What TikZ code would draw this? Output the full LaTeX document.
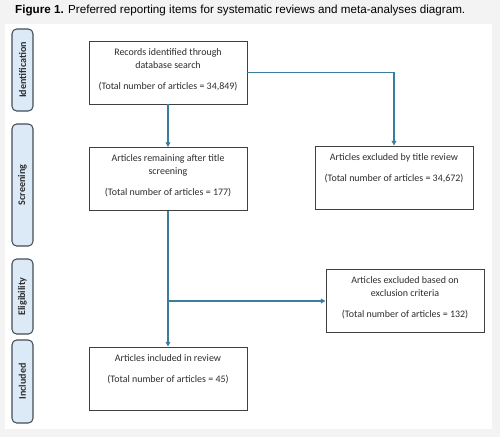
\documentclass[tikz,border=0pt]{standalone}
\usepackage{fontspec}
\setmainfont{Carlito}
\newfontfamily\captionfont{Liberation Sans}
\usetikzlibrary{arrows.meta,positioning}
\definecolor{PageGrey}{HTML}{F3F3F3}
\definecolor{StageFill}{HTML}{DCEAF7}
\definecolor{StageLine}{HTML}{434D57}
\definecolor{BoxLine}{HTML}{404040}
\definecolor{FlowTeal}{HTML}{3A7E9E}
\definecolor{FlowInk}{HTML}{2E2E2E}
\tikzset{
  every node/.style={text=FlowInk},
  stagebox/.style={draw=StageLine, line width=0.9pt, fill=StageFill, rounded corners=4pt,
    rotate=90, minimum height=0.63cm, inner sep=0pt, font=\fontsize{8.6}{10}\selectfont\bfseries},
  flowbox/.style={draw=BoxLine, line width=0.8pt, fill=white, minimum width=4.74cm, minimum height=1.89cm, inner sep=0pt},
  flowtext/.style={anchor=north, align=center, inner sep=0pt, yshift=-6.5pt, font=\fontsize{8.5}{11.1}\selectfont},
  flowarrow/.style={-{Triangle[length=1.4mm,width=1.4mm]}, draw=FlowTeal, line width=1pt},
}
\begin{document}
\begin{tikzpicture}[x=0.03cm,y=-0.03cm]
  % Page and panel
  \fill[PageGrey] (0,0) rectangle (500,437);
  \fill[white] (5,24) rectangle (492,429);
  \node[anchor=west, inner sep=0pt, font=\captionfont\fontsize{9.95}{11}\selectfont, text=black] (title) at (15,10.5)
    {\textbf{Figure 1.} Preferred reporting items for systematic reviews and meta-analyses diagram.};
  % Stages
  \node[stagebox, minimum width=2.46cm] (identification) at (22.5,70) {Identification};
  \node[stagebox, minimum width=3.66cm] (screening) at (22.5,185) {Screening};
  \node[stagebox, minimum width=2.25cm] (eligibility) at (22.5,296.5) {Eligibility};
  \node[stagebox, minimum width=2.49cm] (included) at (22.5,381.5) {Included};
  % Boxes
  \node[flowbox] (records) at (168,72.5) {};
  \node[flowtext] (recordstxt) at (records.north) {Records identified through\\database search\\[6.8pt](Total number of articles = 34,849)};
  \node[flowbox] (remaining) at (168,179) {};
  \node[flowtext] (remainingtxt) at (remaining.north) {Articles remaining after title\\screening\\[6.8pt](Total number of articles = 177)};
  \node[flowbox] (titleout) at (394,177.5) {};
  \node[flowtext] (titleouttxt) at (titleout.north) {Articles excluded by title review\\[6.8pt](Total number of articles = 34,672)};
  \node[flowbox] (criteriaout) at (405,301) {};
  \node[flowtext] (criteriaouttxt) at (criteriaout.north) {Articles excluded based on\\exclusion criteria\\[6.8pt](Total number of articles = 132)};
  \node[flowbox] (review) at (168,378.5) {};
  \node[flowtext] (reviewtxt) at (review.north) {Articles included in review\\[6.8pt](Total number of articles = 45)};
  % Connectors
  \draw[flowarrow] (records) -- (remaining);
  \draw[flowarrow] (records.east) -| (titleout.north);
  \draw[flowarrow] (remaining) -- (review);
  \draw[flowarrow] (remaining.south |- criteriaout.west) -- (criteriaout.west);
\end{tikzpicture}
\end{document}
